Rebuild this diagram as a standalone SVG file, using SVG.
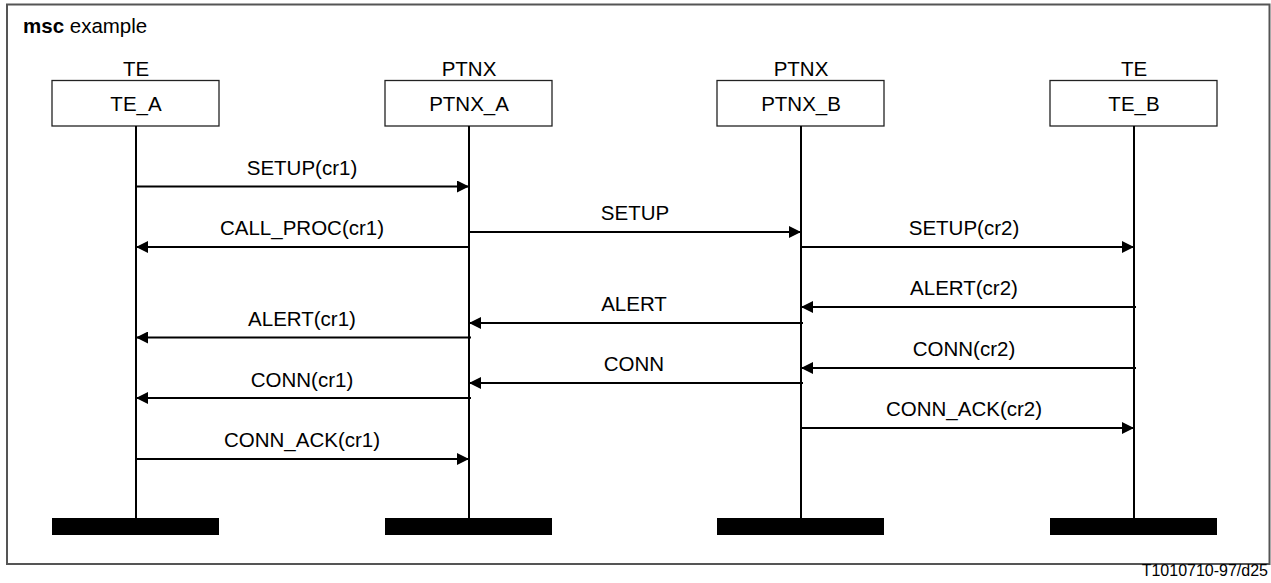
<svg xmlns="http://www.w3.org/2000/svg" width="1271" height="583" viewBox="0 0 1271 583">
<style>
text{font-family:"Liberation Sans",Arial,sans-serif;fill:#000}
.lbl{font-size:20.5px;text-anchor:middle}
.box{fill:#fff;stroke:#222;stroke-width:1.3}
.life{stroke:#000;stroke-width:2}
.msg{stroke:#000;stroke-width:2;fill:none}
.end{fill:#000}
</style>
<defs>
<marker id="ah" markerWidth="12" markerHeight="12" viewBox="0 0 12 12" refX="12" refY="6" orient="auto" markerUnits="userSpaceOnUse">
<path d="M0,0 L12,6 L0,12 Z" fill="#000"/>
</marker>
</defs>
<rect x="7" y="4.5" width="1262.5" height="559.5" fill="#fff" stroke="#555" stroke-width="2"/>
<text x="23" y="33" style="font-size:20.5px"><tspan font-weight="bold">msc</tspan> example</text>
<text x="1268" y="576" style="font-size:16px;text-anchor:end">T1010710-97/d25</text>

<g id="TE_A">
<text class="lbl" x="136" y="76">TE</text>
<rect class="box" x="52" y="80.5" width="167" height="45.5"/>
<text class="lbl" x="136" y="111">TE_A</text>
<line class="life" x1="136" y1="126" x2="136" y2="519"/>
<rect class="end" x="52" y="518" width="167" height="17"/>
</g>
<g id="PTNX_A">
<text class="lbl" x="469" y="76">PTNX</text>
<rect class="box" x="385" y="80.5" width="167" height="45.5"/>
<text class="lbl" x="469" y="111">PTNX_A</text>
<line class="life" x1="469" y1="126" x2="469" y2="519"/>
<rect class="end" x="385" y="518" width="167" height="17"/>
</g>
<g id="PTNX_B">
<text class="lbl" x="801" y="76">PTNX</text>
<rect class="box" x="717" y="80.5" width="167" height="45.5"/>
<text class="lbl" x="801" y="111">PTNX_B</text>
<line class="life" x1="801" y1="126" x2="801" y2="519"/>
<rect class="end" x="717" y="518" width="167" height="17"/>
</g>
<g id="TE_B">
<text class="lbl" x="1134" y="76">TE</text>
<rect class="box" x="1050" y="80.5" width="167" height="45.5"/>
<text class="lbl" x="1134" y="111">TE_B</text>
<line class="life" x1="1134" y1="126" x2="1134" y2="519"/>
<rect class="end" x="1050" y="518" width="167" height="17"/>
</g>

<g id="connectors">
<line class="msg" x1="136" y1="186.5" x2="469" y2="186.5" marker-end="url(#ah)"/>
<text class="lbl" x="302" y="175">SETUP(cr1)</text>
<line class="msg" x1="469" y1="247" x2="136" y2="247" marker-end="url(#ah)"/>
<text class="lbl" x="302" y="235">CALL_PROC(cr1)</text>
<line class="msg" x1="469" y1="232" x2="801" y2="232" marker-end="url(#ah)"/>
<text class="lbl" x="635" y="220">SETUP</text>
<line class="msg" x1="801" y1="247" x2="1134" y2="247" marker-end="url(#ah)"/>
<text class="lbl" x="964" y="235">SETUP(cr2)</text>
<line class="msg" x1="1136" y1="307" x2="801" y2="307" marker-end="url(#ah)"/>
<text class="lbl" x="964" y="295">ALERT(cr2)</text>
<line class="msg" x1="803" y1="323" x2="469" y2="323" marker-end="url(#ah)"/>
<text class="lbl" x="634" y="311">ALERT</text>
<line class="msg" x1="471" y1="337.5" x2="136" y2="337.5" marker-end="url(#ah)"/>
<text class="lbl" x="302" y="326">ALERT(cr1)</text>
<line class="msg" x1="1136" y1="368" x2="801" y2="368" marker-end="url(#ah)"/>
<text class="lbl" x="964" y="356">CONN(cr2)</text>
<line class="msg" x1="803" y1="383" x2="469" y2="383" marker-end="url(#ah)"/>
<text class="lbl" x="634" y="371">CONN</text>
<line class="msg" x1="471" y1="398" x2="136" y2="398" marker-end="url(#ah)"/>
<text class="lbl" x="302" y="387">CONN(cr1)</text>
<line class="msg" x1="801" y1="428" x2="1134" y2="428" marker-end="url(#ah)"/>
<text class="lbl" x="964" y="416">CONN_ACK(cr2)</text>
<line class="msg" x1="136" y1="459" x2="469" y2="459" marker-end="url(#ah)"/>
<text class="lbl" x="302" y="447">CONN_ACK(cr1)</text>
</g>
</svg>
